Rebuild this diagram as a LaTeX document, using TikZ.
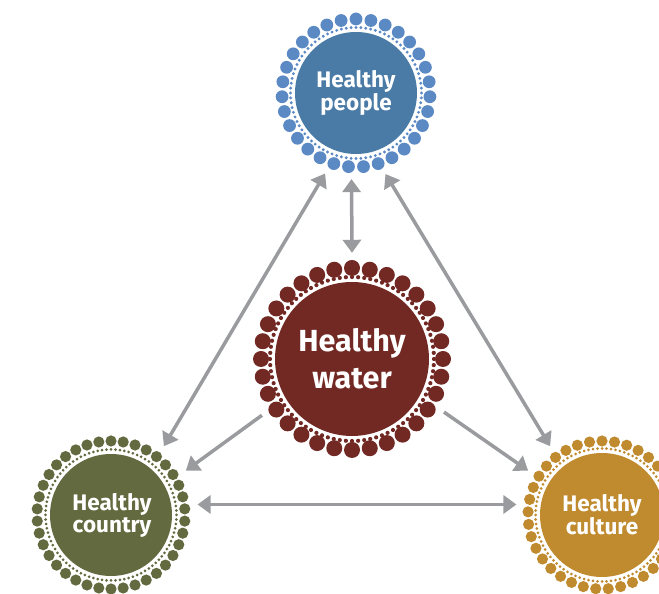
\documentclass[tikz,border=0pt]{standalone}
\usepackage{fontspec}
\setmainfont{Fira Sans}
\usetikzlibrary{arrows.meta}

\definecolor{peoplefill}{HTML}{4A7BA6}
\definecolor{peopledot}{HTML}{5B89C4}
\definecolor{waterfill}{HTML}{722823}
\definecolor{countryfill}{HTML}{646A3F}
\definecolor{culturefill}{HTML}{C08A2E}
\definecolor{linkgray}{HTML}{9A9B9E}

\begin{document}
\begin{tikzpicture}[x=1pt,y=1pt,
  hub/.style={circle,minimum size=172pt,inner sep=0pt,align=center,text=white,
    font=\bfseries\fontsize{22.5}{22}\selectfont},
  link/.style={draw=linkgray,line width=3.5pt,-{Triangle[length=13pt,width=18pt]}},
  twoway/.style={link,{Triangle[length=13pt,width=18pt]}-{Triangle[length=13pt,width=18pt]}}]
\useasboundingbox (0,0) rectangle (659,594);
\clip (0,0) rectangle (659,594);
% disc, ring of small dots, ring of big dots
\foreach \cx/\cy/\ri/\rs/\ns/\ds/\rb/\nb/\db/\fc/\dc in {
  356/501/61/65.5/84/1.6/74/31/6.4/peoplefill/peopledot,
  352/235/77/82/84/2.1/91/32/8/waterfill/waterfill,
  111/79/61/65.5/92/1.5/74/38/5.6/countryfill/countryfill,
  602/79/62/66.5/92/1.5/74/37/5.6/culturefill/culturefill}{
  \fill[fill=\fc] (\cx,\cy) circle (\ri);
  \foreach \k in {1,...,\ns} \fill[fill=\dc] (\cx,\cy) ++({\k/\ns*360}:\rs) circle (\ds);
  \foreach \k in {1,...,\nb} \fill[fill=\dc] (\cx,\cy) ++({\k/\nb*360+90}:\rb) circle (\db);
}
% labels
\node[hub] (people) at (356,501) {Healthy\\people};
\node[hub,minimum size=212pt,font=\bfseries\fontsize{30.5}{37}\selectfont] (water) at (352,235) {Healthy\\water};
\node[hub] (country) at (112,79) {Healthy\\country};
\node[hub] (culture) at (602,79) {Healthy\\culture};
% links
\draw[twoway] (people.267) -- (water.90);
\draw[twoway] (people.249) -- (country.53);
\draw[twoway] (people.290) -- (culture.127);
\draw[link] (water.212) -- (country.31);
\draw[link] (water.330) -- (culture.149);
\draw[twoway] (country.7) -- (culture.173);
\end{tikzpicture}
\end{document}
